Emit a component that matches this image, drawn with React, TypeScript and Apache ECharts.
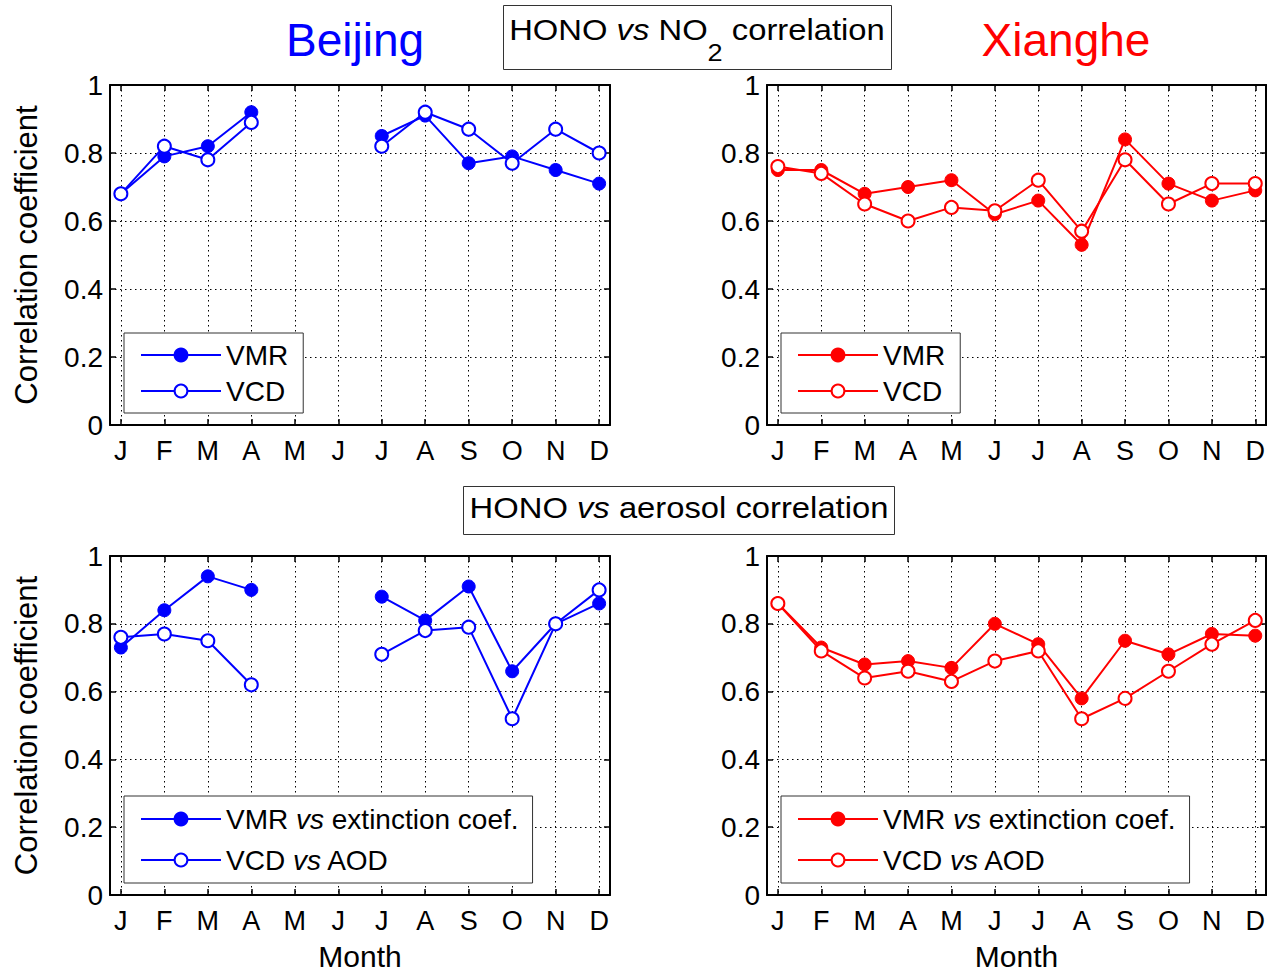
import React, { useEffect, useRef } from 'react';
import * as echarts from 'echarts';

const months = ['J', 'F', 'M', 'A', 'M', 'J', 'J', 'A', 'S', 'O', 'N', 'D'];
const monthNumbers = [1, 2, 3, 4, 5, 6, 7, 8, 9, 10, 11, 12];

// HONO vs NO2 correlation
const bjNo2Vmr = [0.68, 0.79, 0.82, 0.92, null, null, 0.85, 0.91, 0.77, 0.79, 0.75, 0.71];
const bjNo2Vcd = [0.68, 0.82, 0.78, 0.89, null, null, 0.82, 0.92, 0.87, 0.77, 0.87, 0.8];
const xhNo2Vmr = [0.75, 0.75, 0.68, 0.7, 0.72, 0.62, 0.66, 0.53, 0.84, 0.71, 0.66, 0.69];
const xhNo2Vcd = [0.76, 0.74, 0.65, 0.6, 0.64, 0.63, 0.72, 0.57, 0.78, 0.65, 0.71, 0.71];
// HONO vs aerosol correlation
const bjAerVmr = [0.73, 0.84, 0.94, 0.9, null, null, 0.88, 0.81, 0.91, 0.66, 0.8, 0.86];
const bjAerVcd = [0.76, 0.77, 0.75, 0.62, null, null, 0.71, 0.78, 0.79, 0.52, 0.8, 0.9];
const xhAerVmr = [0.86, 0.73, 0.68, 0.69, 0.67, 0.8, 0.74, 0.58, 0.75, 0.71, 0.77, 0.765];
const xhAerVcd = [0.86, 0.72, 0.64, 0.66, 0.63, 0.69, 0.72, 0.52, 0.58, 0.66, 0.74, 0.81];

const legendLabels: Record<string, string> = {
  bjNo2Vmr: 'VMR',
  bjNo2Vcd: 'VCD',
  xhNo2Vmr: 'VMR',
  xhNo2Vcd: 'VCD',
  bjAerVmr: 'VMR {i|vs} extinction coef.',
  bjAerVcd: 'VCD {i|vs} AOD',
  xhAerVmr: 'VMR {i|vs} extinction coef.',
  xhAerVcd: 'VCD {i|vs} AOD',
};

const FONT = '"Liberation Sans", Arial, Helvetica, sans-serif';
const BLUE = '#0000ff';
const RED = '#ff0000';

const grids = [
  { left: 110, top: 85, width: 500, height: 340 },
  { left: 767, top: 85, width: 500, height: 340 },
  { left: 110, top: 556, width: 500, height: 339 },
  { left: 767, top: 556, width: 500, height: 339 },
];

export default function App() {
  const ref = useRef<HTMLDivElement>(null);
  useEffect(() => {
    if (!ref.current) return;
    const chart = echarts.init(ref.current, null, { renderer: 'svg' });

    const xAxes: any[] = [];
    const yAxes: any[] = [];
    grids.forEach((g, gi) => {
      const isBottomRow = gi >= 2;
      const isLeftCol = gi % 2 === 0;
      xAxes.push({
        type: 'value',
        gridIndex: gi,
        position: 'bottom',
        min: 0.75,
        max: 12.25,
        name: isBottomRow ? 'Month' : '',
        nameLocation: 'middle',
        nameGap: 46,
        nameTextStyle: { fontSize: 30, fontFamily: FONT, color: '#000' },
        axisLine: { show: true, onZero: false, lineStyle: { color: '#000', width: 2 } },
        axisTick: { show: true, inside: true, length: 6, customValues: monthNumbers, lineStyle: { color: '#000', width: 1.5 } },
        axisLabel: {
          show: true,
          customValues: monthNumbers,
          margin: 12,
          fontSize: 27,
          fontFamily: FONT,
          color: '#000',
          formatter: (v: number) => months[Math.round(v) - 1] ?? '',
        },
        splitLine: { show: true, lineStyle: { color: '#000', width: 1, type: [1.5, 3.5] } },
      });
      xAxes.push({
        type: 'value',
        gridIndex: gi,
        position: 'top',
        min: 0.75,
        max: 12.25,
        axisLine: { show: true, onZero: false, lineStyle: { color: '#000', width: 2 } },
        axisTick: { show: true, inside: true, length: 6, customValues: monthNumbers, lineStyle: { color: '#000', width: 1.5 } },
        axisLabel: { show: false },
        splitLine: { show: false },
      });
      yAxes.push({
        type: 'value',
        gridIndex: gi,
        position: 'left',
        min: 0,
        max: 1,
        interval: 0.2,
        name: isLeftCol ? 'Correlation coefficient' : '',
        nameLocation: 'middle',
        nameGap: 68,
        nameTextStyle: { fontSize: 31, fontFamily: FONT, color: '#000' },
        axisLine: { show: true, onZero: false, lineStyle: { color: '#000', width: 2 } },
        axisTick: { show: true, inside: true, length: 6, lineStyle: { color: '#000', width: 1.5 } },
        axisLabel: {
          margin: 7,
          fontSize: 28,
          fontFamily: FONT,
          color: '#000',
          formatter: (v: number) => (v === 0 || v === 1 ? String(v) : v.toFixed(1)),
        },
        splitLine: { show: true, lineStyle: { color: '#000', width: 1, type: [1.5, 3.5] } },
      });
      yAxes.push({
        type: 'value',
        gridIndex: gi,
        position: 'right',
        min: 0,
        max: 1,
        interval: 0.2,
        axisLine: { show: true, onZero: false, lineStyle: { color: '#000', width: 2 } },
        axisTick: { show: true, inside: true, length: 6, lineStyle: { color: '#000', width: 1.5 } },
        axisLabel: { show: false },
        splitLine: { show: false },
      });
    });

    const mk = (name: string, values: (number | null)[], gi: number, color: string, filled: boolean) => ({
      type: 'line',
      name,
      xAxisIndex: gi * 2,
      yAxisIndex: gi * 2,
      data: values.map((v, i) => [monthNumbers[i], v === null ? '-' : v]),
      symbol: 'circle',
      symbolSize: 13,
      showAllSymbol: true,
      connectNulls: false,
      lineStyle: { color, width: 2 },
      itemStyle: filled
        ? { color, borderColor: color, borderWidth: 1 }
        : { color: '#ffffff', borderColor: color, borderWidth: 2 },
      emphasis: { disabled: true },
      z: filled ? 3 : 4,
    });

    const series = [
      mk('bjNo2Vmr', bjNo2Vmr, 0, BLUE, true),
      mk('bjNo2Vcd', bjNo2Vcd, 0, BLUE, false),
      mk('xhNo2Vmr', xhNo2Vmr, 1, RED, true),
      mk('xhNo2Vcd', xhNo2Vcd, 1, RED, false),
      mk('bjAerVmr', bjAerVmr, 2, BLUE, true),
      mk('bjAerVcd', bjAerVcd, 2, BLUE, false),
      mk('xhAerVmr', xhAerVmr, 3, RED, true),
      mk('xhAerVcd', xhAerVcd, 3, RED, false),
    ];

    const richI = { fontStyle: 'italic', fontSize: 28, fontFamily: FONT, color: '#000' };
    const mkLegend = (data: string[], left: number, top: number, bottomRow: boolean) => ({
      orient: 'vertical',
      left,
      top,
      data,
      selectedMode: false,
      formatter: (name: string) => legendLabels[name],
      itemWidth: 80,
      itemHeight: 16,
      itemGap: bottomRow ? 11 : 6,
      padding: bottomRow ? [8, 14, 8, 16] : [7, 15, 7, 16],
      borderColor: '#333',
      borderWidth: 1,
      borderRadius: 0,
      backgroundColor: '#fff',
      textStyle: { fontSize: 28, fontFamily: FONT, color: '#000', lineHeight: 30, rich: { i: richI } },
    });

    const legends = [
      mkLegend(['bjNo2Vmr', 'bjNo2Vcd'], 124, 333, false),
      mkLegend(['xhNo2Vmr', 'xhNo2Vcd'], 781, 333, false),
      mkLegend(['bjAerVmr', 'bjAerVcd'], 124, 796, true),
      mkLegend(['xhAerVmr', 'xhAerVcd'], 781, 796, true),
    ];

    const boxText = (text: string, x: number, y: number, sx: number, rich: any) => ({
      type: 'text',
      x,
      y,
      scaleX: sx,
      z: 10,
      style: { text, rich, align: 'center', verticalAlign: 'top', fontFamily: FONT, fill: '#000' },
    });

    const graphic = [
      {
        type: 'text',
        x: 355,
        y: 40,
        style: { text: 'Beijing', fill: BLUE, fontSize: 46, fontFamily: FONT, align: 'center', verticalAlign: 'middle' },
      },
      {
        type: 'text',
        x: 1066,
        y: 40,
        style: { text: 'Xianghe', fill: RED, fontSize: 46, fontFamily: FONT, align: 'center', verticalAlign: 'middle' },
      },
      {
        type: 'rect',
        z: 9,
        shape: { x: 503.5, y: 5.5, width: 388, height: 64 },
        style: { fill: '#fff', stroke: '#333', lineWidth: 1 },
      },
      boxText('{n|HONO }{i|vs}{n| NO}{s|2}{n| correlation}', 697, 16, 1.13, {
        n: { fontSize: 29, fontFamily: FONT, color: '#000', lineHeight: 32, verticalAlign: 'top' },
        i: { fontSize: 29, fontFamily: FONT, color: '#000', lineHeight: 32, fontStyle: 'italic', verticalAlign: 'top' },
        s: { fontSize: 24, fontFamily: FONT, color: '#000', lineHeight: 26, verticalAlign: 'top', padding: [25, 0, 0, 0] },
      }),
      {
        type: 'rect',
        z: 9,
        shape: { x: 463.5, y: 486.5, width: 431, height: 48 },
        style: { fill: '#fff', stroke: '#333', lineWidth: 1 },
      },
      boxText('{n|HONO }{i|vs}{n| aerosol correlation}', 679, 494, 1.13, {
        n: { fontSize: 29, fontFamily: FONT, color: '#000', lineHeight: 32, verticalAlign: 'top' },
        i: { fontSize: 29, fontFamily: FONT, color: '#000', lineHeight: 32, fontStyle: 'italic', verticalAlign: 'top' },
      }),
    ];

    chart.setOption({
      animation: false,
      backgroundColor: '#fff',
      grid: grids.map((g) => ({ ...g, show: false, containLabel: false })),
      xAxis: xAxes,
      yAxis: yAxes,
      legend: legends,
      series,
      graphic,
    });
    return () => chart.dispose();
  }, []);
  return <div ref={ref} style={{ position: 'absolute', left: 0, top: 0, width: 1268, height: 973 }} />;
}
